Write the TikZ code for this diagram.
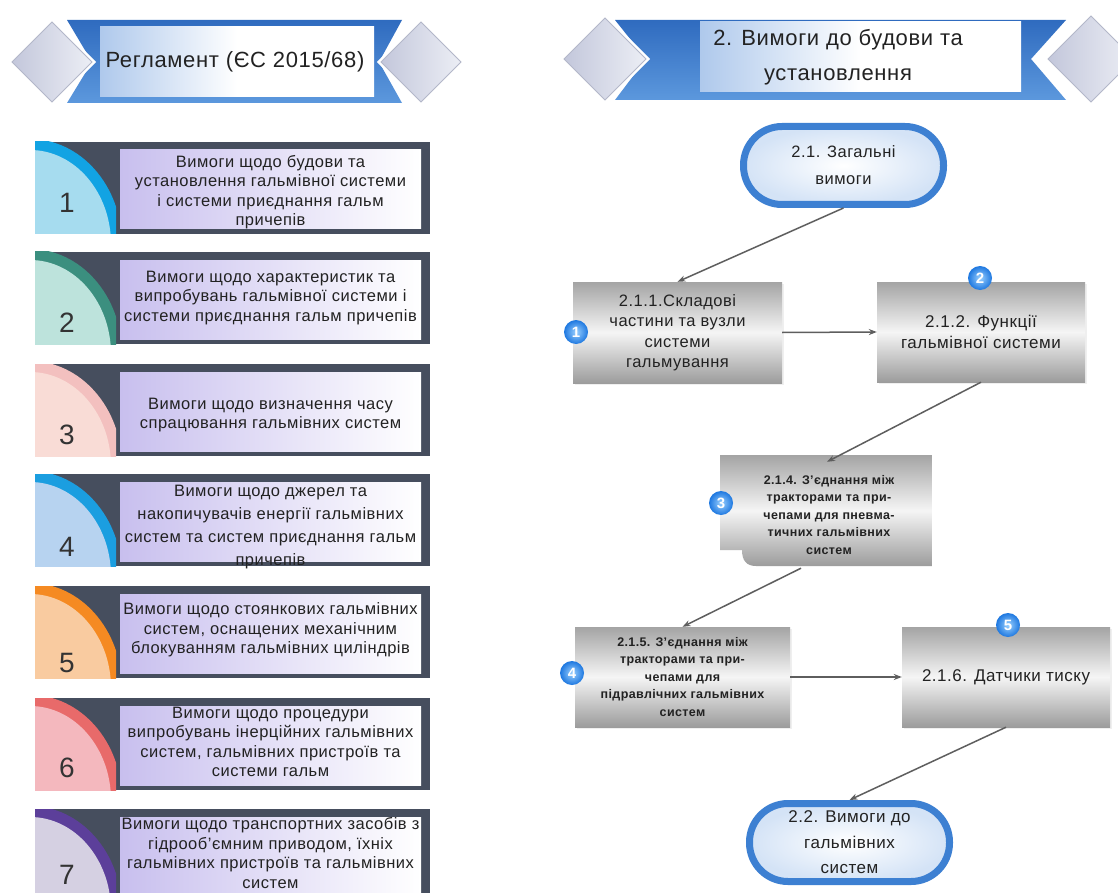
\documentclass[tikz,border=0pt]{standalone}
\usepackage{fontspec}
\setmainfont{Liberation Sans}
\newfontfamily\spc[LetterSpace=3]{Liberation Sans}
\usetikzlibrary{arrows.meta,shadows}
\definecolor{bandA}{HTML}{2F6BBF}
\definecolor{bandB}{HTML}{5C98DD}
\definecolor{bandlight}{HTML}{AFC9EC}
\definecolor{diaA}{HTML}{C3C7DB}
\definecolor{diaB}{HTML}{ECEEF5}
\definecolor{diaE}{HTML}{B3B7C9}
\definecolor{panel}{HTML}{464E5E}
\definecolor{lav}{HTML}{C8BFEE}
\definecolor{txt}{HTML}{222222}
\definecolor{numc}{HTML}{333333}
\definecolor{gtop}{HTML}{A4A4A4}
\definecolor{gmid}{HTML}{F5F5F5}
\definecolor{gbot}{HTML}{9C9C9C}
\definecolor{lineg}{HTML}{5E5E5E}
\definecolor{badgeA}{HTML}{9AD0FF}
\definecolor{badgeB}{HTML}{1E78E0}
\definecolor{stad}{HTML}{3D80D2}
\definecolor{stadin}{HTML}{D4E3F6}
\definecolor{ringA}{HTML}{12A3E3}\definecolor{inA}{HTML}{A6DCEF}
\definecolor{ringB}{HTML}{3B8F7F}\definecolor{inB}{HTML}{BDE3DC}
\definecolor{ringC}{HTML}{F3C0BF}\definecolor{inC}{HTML}{F9DCD6}
\definecolor{ringD}{HTML}{1B9EE0}\definecolor{inD}{HTML}{B7D3F0}
\definecolor{ringE}{HTML}{F58A22}\definecolor{inE}{HTML}{F9CBA0}
\definecolor{ringF}{HTML}{E86A6A}\definecolor{inF}{HTML}{F4B8BE}
\definecolor{ringG}{HTML}{5C3F9A}\definecolor{inG}{HTML}{D5D0E2}
\tikzset{
  headtxt/.style={align=center, inner sep=0pt, text=txt, font=\spc\fontsize{22}{35}\selectfont},
  numtxt/.style={inner sep=0pt, text=numc, font=\fontsize{28}{28}\selectfont},
  itemtxt/.style={align=center, inner sep=0pt, text=txt, font=\spc\fontsize{16.5}{19.5}\selectfont},
  greybox/.style={rectangle, top color=gtop, bottom color=gbot, middle color=gmid, inner sep=0pt,
    align=center, text=txt, drop shadow={shadow xshift=2pt, shadow yshift=-2pt, opacity=0.12}},
  flowtxt/.style={font=\spc\fontsize{16.5}{20.5}\selectfont},
  smalltxt/.style={font=\spc\bfseries\fontsize{12.5}{17.5}\selectfont},
  stadium/.style={rectangle, rounded corners=38.5pt, draw=stad, line width=7pt, inner color=white,
    outer color=stadin, minimum width=200pt, minimum height=78pt, align=center, inner sep=0pt, text=txt},
  badgenode/.style={circle, inner color=badgeA, outer color=badgeB, minimum size=24pt, inner sep=0pt, text=white,
    font=\bfseries\fontsize{15}{15}\selectfont},
  conn/.style={draw=lineg, line width=1.5pt, -{Stealth[length=8pt,width=6pt]}},
  diam/.style={left color=diaA, right color=diaB, draw=diaE, line width=0.8pt},
  inner/.style={left color=bandlight, right color=white, middle color=white},
}
\newcommand\reqitem[8]{%
  \fill[panel] (35,#2) rectangle (430,#2+92);
  \begin{scope}
    \clip (35,#2) rectangle (116,#2+92);
    \fill[#3] (30,#2+102) ellipse [x radius=92, y radius=105];
    \fill[#4] (30,#2+102) ellipse [x radius=81, y radius=94];
  \end{scope}
  \shade[left color=lav, right color=white] (120,#2+8) rectangle (421,#2+87);
  \node[numtxt] (num#1) at (67,#5) {#1};
  \node[itemtxt,#8] (item#1) at (270.5,#6) {#7};
}
\begin{document}
\begin{tikzpicture}[x=1pt,y=-1pt]
\useasboundingbox (0,0) rectangle (1118,893);
\fill[white] (0,0) rectangle (1118,893);
\clip (0,0) rectangle (1118,893);

% ---------- left header ----------
\shade[top color=bandA, bottom color=bandB] (67,20) -- (402,20) -- (379,62) -- (402,103) -- (67,103) -- (92,62) -- cycle;
\shade[inner] (100,27) rectangle (374,97);
\draw[white, line width=3pt] (52,20) -- (94,62) -- (52,104) -- (10,62) -- cycle;
\shadedraw[diam] (52,22) -- (92,62) -- (52,102) -- (12,62) -- cycle;
\draw[white, line width=3pt] (421,20) -- (463,62) -- (421,104) -- (379,62) -- cycle;
\shadedraw[diam] (421,22) -- (461,62) -- (421,102) -- (381,62) -- cycle;
\node[headtxt] (h1) at (235,62) {Регламент (ЄС 2015/68)};

% ---------- right header ----------
\shade[top color=bandA, bottom color=bandB] (615,20) -- (1066,20) -- (1031,59) -- (1066,100) -- (615,100) -- (646,59) -- cycle;
\shade[inner] (700,22) rectangle (1021,92);
\draw[white, line width=3pt] (605,16) -- (648,59) -- (605,102) -- (562,59) -- cycle;
\shadedraw[diam] (605,18) -- (646,59) -- (605,100) -- (564,59) -- cycle;
\draw[white, line width=3pt] (1091,14) -- (1136,59) -- (1091,104) -- (1046,59) -- cycle;
\shadedraw[diam] (1091,16) -- (1134,59) -- (1091,102) -- (1048,59) -- cycle;
\node[headtxt] (h2) at (838,57) {2. Вимоги до будови та\\установлення};

% ---------- left list ----------
\reqitem{1}{142}{ringA}{inA}{203}{192}{Вимоги щодо будови та\\установлення гальмівної системи\\і системи приєднання  гальм\\причепів}{}
\reqitem{2}{252}{ringB}{inB}{323}{298}{Вимоги щодо характеристик  та\\випробувань гальмівної системи і\\системи приєднання  гальм причепів}{}
\reqitem{3}{364}{ringC}{inC}{435}{415}{Вимоги щодо визначення часу\\спрацювання  гальмівних систем}{}
\reqitem{4}{474}{ringD}{inD}{547}{527}{Вимоги щодо джерел та\\накопичувачів енергії гальмівних\\систем та систем приєднання  гальм\\причепів}{font=\spc\fontsize{16.5}{23}\selectfont}
\reqitem{5}{586}{ringE}{inE}{663}{630}{Вимоги щодо стоянкових гальмівних\\систем, оснащених механічним\\блокуванням гальмівних циліндрів}{}
\reqitem{6}{698}{ringF}{inF}{768}{742}{Вимоги щодо процедури\\випробувань інерційних гальмівних\\систем, гальмівних пристроїв та\\системи  гальм}{}
\reqitem{7}{809}{ringG}{inG}{875}{853}{Вимоги щодо транспортних засобів з\\гідрооб’ємним приводом, їхніх\\гальмівних пристроїв та гальмівних\\систем}{}

% ---------- flowchart ----------
\node[stadium, font=\spc\fontsize{16.5}{27}\selectfont] (n21) at (843.5,165.5) {2.1. Загальні\\вимоги};
\node[greybox, flowtxt, minimum width=209pt, minimum height=101pt] (n211) at (677.5,332.5)
  {2.1.1.Складові\\частини  та вузли\\системи\\гальмування};
\node[greybox, flowtxt, font=\spc\fontsize{17}{21}\selectfont, minimum width=208pt, minimum height=100pt] (n212) at (981,332)
  {2.1.2. Функції\\гальмівної системи};
\shade[top color=gtop, bottom color=gbot, middle color=gmid]
  (720,455) -- (932,455) -- (932,566) -- (756,566) .. controls (746,566) and (742,560) .. (742,550) -- (720,550) -- cycle;
\node[smalltxt, align=center, text=txt, inner sep=0pt, minimum width=212pt, minimum height=112pt] (n214) at (829,515)
  {2.1.4. З’єднання між\\тракторами та при-\\чепами для  пневма-\\тичних гальмівних\\систем};
\node[greybox, smalltxt, minimum width=215pt, minimum height=100pt] (n215) at (682.5,677)
  {2.1.5. З’єднання між\\тракторами та при-\\чепами для\\підравлічних гальмівних\\систем};
\node[greybox, font=\spc\fontsize{17}{21}\selectfont, minimum width=208pt, minimum height=100pt] (n216) at (1006,677)
  {2.1.6. Датчики тиску};
\node[stadium, font=\spc\fontsize{17}{25.5}\selectfont] (n22) at (849.5,842.5) {2.2. Вимоги до\\гальмівних\\систем};

\draw[conn] (n21.south) -- (n211.north);
\draw[conn] (n211.east) -- (n212.west);
\draw[conn] (n212.south) -- ([xshift=-2pt,yshift=-3pt]n214.north);
\draw[conn] ([xshift=-28pt,yshift=3pt]n214.south) -- (n215.north);
\draw[conn] (n215.east) -- (n216.west);
\draw[conn] (n216.south) -- (n22.north);

\node[badgenode] (b1) at (576,332) {1};
\node[badgenode] (b2) at (980,278) {2};
\node[badgenode] (b3) at (721,503) {3};
\node[badgenode] (b4) at (572,673) {4};
\node[badgenode] (b5) at (1008,625) {5};
\end{tikzpicture}
\end{document}
